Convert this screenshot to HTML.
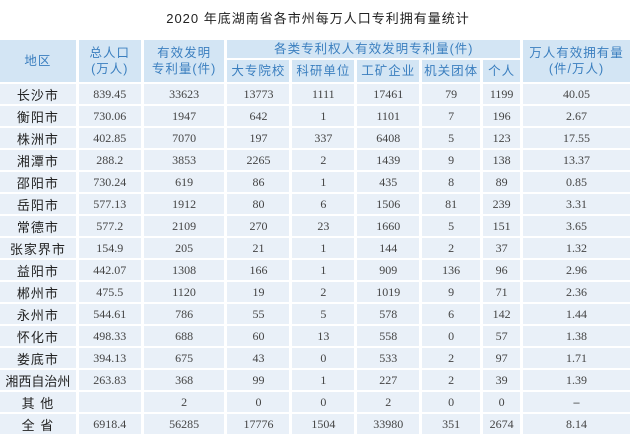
<!DOCTYPE html>
<html><head><meta charset="utf-8"><style>
body{margin:0;background:#fff;width:636px;height:446px;overflow:hidden;position:relative}
.t{position:absolute;top:8px;left:0;width:636px;text-align:center;font:13px "Liberation Sans","Noto Sans CJK SC",sans-serif;color:#222;letter-spacing:1px}
table{position:absolute;left:-3px;top:38px;border-collapse:separate;border-spacing:3px 2px;table-layout:fixed}
td{padding:0;text-align:center;vertical-align:middle;background:#e9f0f8;height:20px;line-height:20px;font:12px "Liberation Serif","Noto Serif CJK SC",serif;color:#444;overflow:hidden;white-space:nowrap}
td.n{font:13px "Liberation Sans","Noto Sans CJK SC",sans-serif;color:#222;letter-spacing:1px}
tr.h td{background:#d3e5f4;color:#3b7fbf;font:12.5px "Liberation Sans","Noto Sans CJK SC",sans-serif;line-height:16px;letter-spacing:1px}
</style></head><body>
<div class="t">2020 年底湖南省各市州每万人口专利拥有量统计</div>
<table>
<colgroup><col style="width:76px"><col style="width:62px"><col style="width:81px"><col style="width:62px"><col style="width:62px"><col style="width:62px"><col style="width:58px"><col style="width:37px"><col style="width:107px"></colgroup>
<tr class="h"><td rowspan="2" style="height:42px">地区</td><td rowspan="2">总人口<br>(万人)</td><td rowspan="2">有效发明<br>专利量(件)</td><td colspan="5" style="height:18px">各类专利权人有效发明专利量(件)</td><td rowspan="2">万人有效拥有量<br>(件/万人)</td></tr>
<tr class="h"><td style="height:22px">大专院校</td><td>科研单位</td><td>工矿企业</td><td>机关团体</td><td>个人</td></tr>
<tr><td class="n">长沙市</td><td>839.45</td><td>33623</td><td>13773</td><td>1111</td><td>17461</td><td>79</td><td>1199</td><td>40.05</td></tr>
<tr><td class="n">衡阳市</td><td>730.06</td><td>1947</td><td>642</td><td>1</td><td>1101</td><td>7</td><td>196</td><td>2.67</td></tr>
<tr><td class="n">株洲市</td><td>402.85</td><td>7070</td><td>197</td><td>337</td><td>6408</td><td>5</td><td>123</td><td>17.55</td></tr>
<tr><td class="n">湘潭市</td><td>288.2</td><td>3853</td><td>2265</td><td>2</td><td>1439</td><td>9</td><td>138</td><td>13.37</td></tr>
<tr><td class="n">邵阳市</td><td>730.24</td><td>619</td><td>86</td><td>1</td><td>435</td><td>8</td><td>89</td><td>0.85</td></tr>
<tr><td class="n">岳阳市</td><td>577.13</td><td>1912</td><td>80</td><td>6</td><td>1506</td><td>81</td><td>239</td><td>3.31</td></tr>
<tr><td class="n">常德市</td><td>577.2</td><td>2109</td><td>270</td><td>23</td><td>1660</td><td>5</td><td>151</td><td>3.65</td></tr>
<tr><td class="n">张家界市</td><td>154.9</td><td>205</td><td>21</td><td>1</td><td>144</td><td>2</td><td>37</td><td>1.32</td></tr>
<tr><td class="n">益阳市</td><td>442.07</td><td>1308</td><td>166</td><td>1</td><td>909</td><td>136</td><td>96</td><td>2.96</td></tr>
<tr><td class="n">郴州市</td><td>475.5</td><td>1120</td><td>19</td><td>2</td><td>1019</td><td>9</td><td>71</td><td>2.36</td></tr>
<tr><td class="n">永州市</td><td>544.61</td><td>786</td><td>55</td><td>5</td><td>578</td><td>6</td><td>142</td><td>1.44</td></tr>
<tr><td class="n">怀化市</td><td>498.33</td><td>688</td><td>60</td><td>13</td><td>558</td><td>0</td><td>57</td><td>1.38</td></tr>
<tr><td class="n">娄底市</td><td>394.13</td><td>675</td><td>43</td><td>0</td><td>533</td><td>2</td><td>97</td><td>1.71</td></tr>
<tr><td class="n" style="letter-spacing:0">湘西自治州</td><td>263.83</td><td>368</td><td>99</td><td>1</td><td>227</td><td>2</td><td>39</td><td>1.39</td></tr>
<tr><td class="n">其 他</td><td></td><td>2</td><td>0</td><td>0</td><td>2</td><td>0</td><td>0</td><td><b>–</b></td></tr>
<tr><td class="n">全 省</td><td>6918.4</td><td>56285</td><td>17776</td><td>1504</td><td>33980</td><td>351</td><td>2674</td><td>8.14</td></tr>
</table>
</body></html>
